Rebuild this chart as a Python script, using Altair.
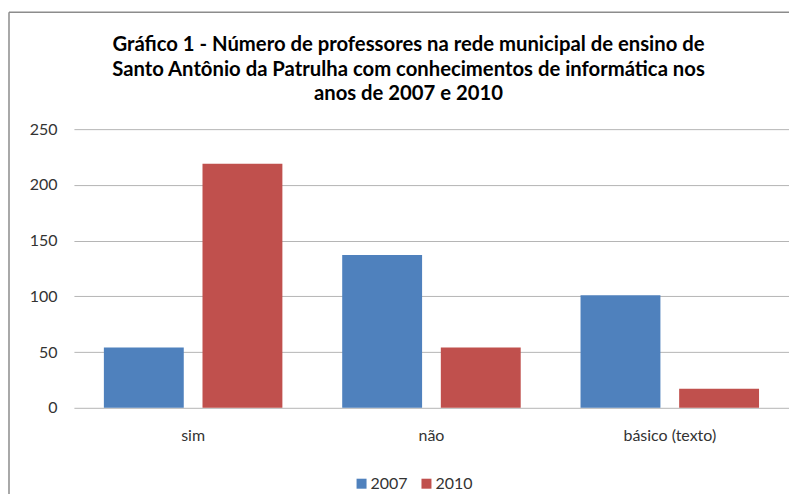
import altair as alt
import pandas as pd

categories = ["sim", "não", "básico (texto)"]
years = ["2007", "2010"]
values_2007 = [54, 137, 101]
values_2010 = [219, 54, 17]
y_ticks = [0, 50, 100, 150, 200, 250]
title_lines = [
    "Gráfico 1 - Número de professores na rede municipal de ensino de",
    "Santo Antônio da Patrulha com conhecimentos de informática nos",
    "anos de 2007 e 2010",
]

rows = []
for c, a, b in zip(categories, values_2007, values_2010):
    rows.append({"categoria": c, "ano": years[0], "valor": a})
    rows.append({"categoria": c, "ano": years[1], "valor": b})
df = pd.DataFrame(rows)

FONT = "Lato"
TXT = "#333333"

bars = alt.Chart(df).mark_bar().encode(
    x=alt.X(
        "categoria:N",
        sort=categories,
        scale=alt.Scale(paddingInner=0.251, paddingOuter=0.1257),
        axis=alt.Axis(title=None, labelAngle=0, ticks=False, domain=False,
                      labelPadding=20, labelFontSize=16, labelColor=TXT,
                      labelFont=FONT),
    ),
    xOffset=alt.XOffset("ano:N", sort=years,
                        scale=alt.Scale(paddingInner=0.19, paddingOuter=0)),
    y=alt.Y(
        "valor:Q",
        scale=alt.Scale(domain=[0, 250], nice=False),
        axis=alt.Axis(values=y_ticks, title=None, ticks=False, domain=False,
                      labelPadding=17, labelFontSize=16, labelColor=TXT,
                      labelFont=FONT, gridColor="#B5B5B5", gridWidth=1),
    ),
    color=alt.Color(
        "ano:N",
        scale=alt.Scale(domain=years, range=["#4F81BD", "#C0504D"]),
        legend=alt.Legend(title=None, orient="none", legendX=280, legendY=347,
                          direction="horizontal", symbolType="square",
                          symbolSize=100, labelFontSize=16, labelFont=FONT,
                          labelColor=TXT, labelOffset=1, columnPadding=10,
                          symbolStrokeWidth=0),
    ),
)

frame_df = pd.DataFrame({"a": [0]})
top_line = alt.Chart(frame_df).mark_rule(color="#8C8C8C", strokeWidth=1.5).encode(
    x=alt.value(-65), x2=alt.value(800), y=alt.value(-117)
)
left_line = alt.Chart(frame_df).mark_rule(color="#8C8C8C", strokeWidth=1.5).encode(
    x=alt.value(-65), y=alt.value(-117), y2=alt.value(400)
)
title_text = alt.Chart(frame_df).mark_text(
    text=title_lines, fontSize=20.3, font=FONT, fontWeight="bold",
    lineHeight=24.5, align="center", baseline="top", color="#000000",
).encode(x=alt.value(335), y=alt.value(-94))

chart = alt.layer(bars, top_line, left_line, title_text).properties(
    width=716,
    height=279,
    autosize=alt.AutoSizeParams(type="none"),
    padding={"left": 66, "top": 121, "right": 0, "bottom": 86},
).configure_view(stroke=None)

chart.save("out.html", embed_options={"renderer": "svg", "actions": False})
